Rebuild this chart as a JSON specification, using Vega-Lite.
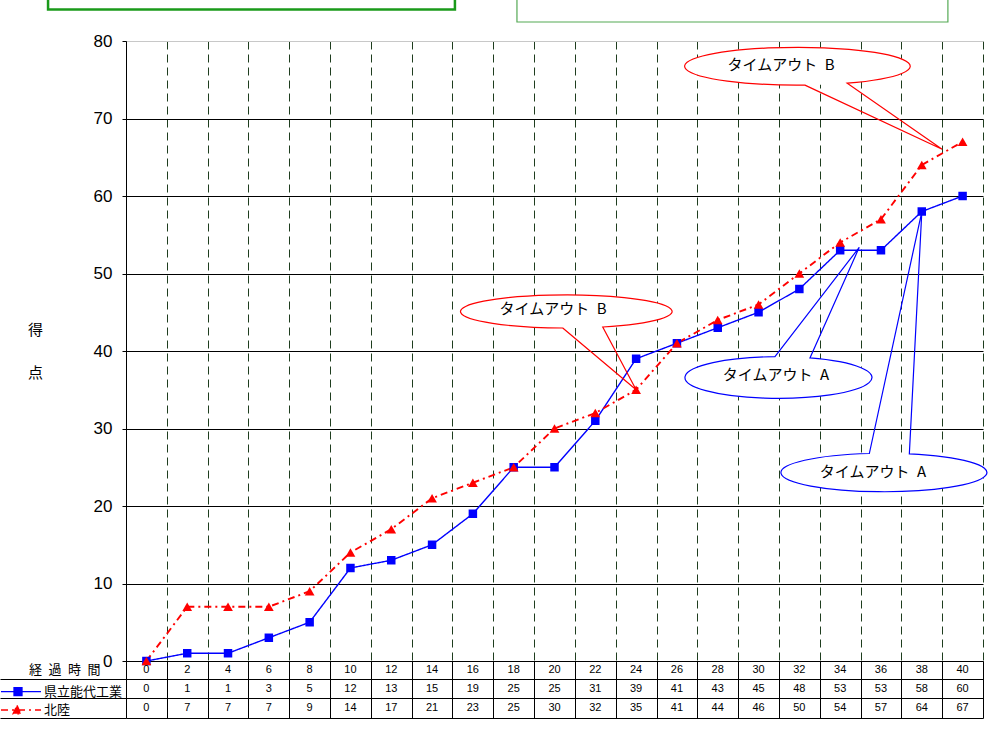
{
  "$schema": "https://vega.github.io/schema/vega-lite/v6.json",
  "width": 857,
  "height": 620,
  "autosize": {"type": "none"},
  "padding": {"left": 126, "top": 41, "right": 6, "bottom": 70},
  "background": "white",
  "config": {"view": {"stroke": null}, "font": "Liberation Sans"},
  "datasets": {
    "scores": [
      {"t": 0, "team": "県立能代工業", "score": 0},
      {"t": 2, "team": "県立能代工業", "score": 1},
      {"t": 4, "team": "県立能代工業", "score": 1},
      {"t": 6, "team": "県立能代工業", "score": 3},
      {"t": 8, "team": "県立能代工業", "score": 5},
      {"t": 10, "team": "県立能代工業", "score": 12},
      {"t": 12, "team": "県立能代工業", "score": 13},
      {"t": 14, "team": "県立能代工業", "score": 15},
      {"t": 16, "team": "県立能代工業", "score": 19},
      {"t": 18, "team": "県立能代工業", "score": 25},
      {"t": 20, "team": "県立能代工業", "score": 25},
      {"t": 22, "team": "県立能代工業", "score": 31},
      {"t": 24, "team": "県立能代工業", "score": 39},
      {"t": 26, "team": "県立能代工業", "score": 41},
      {"t": 28, "team": "県立能代工業", "score": 43},
      {"t": 30, "team": "県立能代工業", "score": 45},
      {"t": 32, "team": "県立能代工業", "score": 48},
      {"t": 34, "team": "県立能代工業", "score": 53},
      {"t": 36, "team": "県立能代工業", "score": 53},
      {"t": 38, "team": "県立能代工業", "score": 58},
      {"t": 40, "team": "県立能代工業", "score": 60},
      {"t": 0, "team": "北陸", "score": 0},
      {"t": 2, "team": "北陸", "score": 7},
      {"t": 4, "team": "北陸", "score": 7},
      {"t": 6, "team": "北陸", "score": 7},
      {"t": 8, "team": "北陸", "score": 9},
      {"t": 10, "team": "北陸", "score": 14},
      {"t": 12, "team": "北陸", "score": 17},
      {"t": 14, "team": "北陸", "score": 21},
      {"t": 16, "team": "北陸", "score": 23},
      {"t": 18, "team": "北陸", "score": 25},
      {"t": 20, "team": "北陸", "score": 30},
      {"t": 22, "team": "北陸", "score": 32},
      {"t": 24, "team": "北陸", "score": 35},
      {"t": 26, "team": "北陸", "score": 41},
      {"t": 28, "team": "北陸", "score": 44},
      {"t": 30, "team": "北陸", "score": 46},
      {"t": 32, "team": "北陸", "score": 50},
      {"t": 34, "team": "北陸", "score": 54},
      {"t": 36, "team": "北陸", "score": 57},
      {"t": 38, "team": "北陸", "score": 64},
      {"t": 40, "team": "北陸", "score": 67}
    ],
    "callouts": [
      {"id": "B1", "kind": "B", "label": "タイムアウト\u2002B", "cx": 20.59, "cy": 45.1, "tx": 19.93, "ty": 45.42},
      {"id": "B2", "kind": "B", "label": "タイムアウト\u2002B", "cx": 31.92, "cy": 76.75, "tx": 31.1, "ty": 76.9},
      {"id": "A1", "kind": "A", "label": "タイムアウト\u2002A", "cx": 31.01, "cy": 36.58, "tx": 30.85, "ty": 36.9},
      {"id": "A2", "kind": "A", "label": "タイムアウト\u2002A", "cx": 36.15, "cy": 24.32, "tx": 35.61, "ty": 24.43}
    ],
    "boxes": [
      {"box": "left", "x1": -4.82, "x2": 15.12, "y1": 84.06, "y2": 87.9},
      {"box": "right", "x1": 18.16, "x2": 39.28, "y1": 82.45, "y2": 87.9}
    ]
  },
  "layer": [
    {
      "data": {"name": "scores"},
      "encoding": {
        "x": {
          "field": "t", "type": "quantitative", "title": null,
          "scale": {"domain": [-1, 41], "nice": false, "zero": false},
          "axis": {
            "values": [-1, 1, 3, 5, 7, 9, 11, 13, 15, 17, 19, 21, 23, 25, 27, 29, 31, 33, 35, 37, 39, 41],
            "labels": false, "title": null,
            "ticks": true, "tickSize": 57, "tickColor": "#000000", "tickWidth": 1,
            "domain": true, "domainColor": "#000000", "domainWidth": 1,
            "grid": true, "gridColor": "#1e3d1e", "gridDash": [8, 5], "gridWidth": 1,
            "encode": {"grid": {"update": {"strokeOpacity": {"signal": "(datum.value < 0 || datum.value > 40) ? 0 : 1"}}}}
          }
        },
        "y": {
          "field": "score", "type": "quantitative",
          "scale": {"domain": [0, 80], "nice": false},
          "axis": {
            "values": [0, 10, 20, 30, 40, 50, 60, 70, 80],
            "title": ["得", "点"], "titleAngle": 0, "titleX": -91, "titleY": 288,
            "titleAlign": "center", "titleBaseline": "middle",
            "titleFont": "Noto Sans CJK JP", "titleFontSize": 15, "titleFontWeight": "normal",
            "titleLineHeight": 43, "titleColor": "#000000",
            "labelFont": "Liberation Sans", "labelFontSize": 17, "labelColor": "#000000", "labelPadding": 10,
            "tickSize": 4, "tickColor": "#000000",
            "domain": true, "domainColor": "#000000",
            "grid": true, "gridWidth": 1,
            "gridColor": {"condition": {"test": "datum.value >= 80", "value": "#c8c8c8"}, "value": "#000000"}
          }
        },
        "color": {
          "field": "team", "type": "nominal",
          "scale": {"domain": ["県立能代工業", "北陸"], "range": ["#0000ff", "#ff0000"]},
          "legend": {
            "orient": "none", "legendX": -115.5, "legendY": 640.2, "title": null,
            "direction": "vertical", "padding": 0, "rowPadding": 0.3,
            "labelFont": "Noto Sans CJK JP", "labelFontSize": 13, "labelColor": "#000000", "labelOffset": 12.5,
            "symbolSize": 361, "symbolStrokeWidth": 1.3,
            "encode": {
              "symbols": {
                "update": {
                  "shape": {"signal": "datum.value === '北陸' ? 'M-2.105,0H2.105M-0.421,-0.484L0,0.4L-0.842,0.4Z' : 'M-2.105,0H2.105M-0.737,-0.421H0.105V0.421H-0.737Z'"},
                  "fill": {"signal": "datum.value === '北陸' ? '#ff0000' : '#0000ff'"},
                  "stroke": {"signal": "datum.value === '北陸' ? '#ff0000' : '#0000ff'"},
                  "strokeDash": {"signal": "datum.value === '北陸' ? [2, 3, 7, 3] : [1, 0]"},
                  "size": {"value": 361},
                  "opacity": {"value": 1}
                }
              }
            }
          }
        }
      },
      "layer": [
        {
          "mark": {"type": "line"},
          "encoding": {
            "strokeDash": {
              "field": "team", "type": "nominal",
              "scale": {"domain": ["県立能代工業", "北陸"], "range": [[1, 0], [7, 4, 2, 4]]},
              "legend": null
            },
            "strokeWidth": {
              "field": "team", "type": "nominal",
              "scale": {"domain": ["県立能代工業", "北陸"], "range": [1.4, 1.9]},
              "legend": null
            }
          }
        },
        {
          "mark": {"type": "point", "filled": true, "opacity": 1},
          "encoding": {
            "shape": {
              "field": "team", "type": "nominal",
              "scale": {"domain": ["県立能代工業", "北陸"], "range": ["square", "triangle-up"]},
              "legend": null
            },
            "size": {
              "field": "team", "type": "nominal",
              "scale": {"domain": ["県立能代工業", "北陸"], "range": [72, 95]},
              "legend": null
            }
          }
        }
      ]
    },
    {
      "data": {"name": "boxes"},
      "mark": {"type": "rect", "fill": "white", "fillOpacity": 0},
      "encoding": {
        "x": {"field": "x1", "type": "quantitative", "title": null, "scale": {"domain": [-1, 41], "nice": false, "zero": false}},
        "x2": {"field": "x2"},
        "y": {"field": "y1", "type": "quantitative", "scale": {"domain": [0, 80], "nice": false}, "axis": null},
        "y2": {"field": "y2"},
        "stroke": {"field": "box", "type": "nominal", "scale": {"domain": ["left", "right"], "range": ["#1a9a1a", "#55aa55"]}, "legend": null},
        "strokeWidth": {"field": "box", "type": "nominal", "scale": {"domain": ["left", "right"], "range": [2.5, 1.2]}, "legend": null}
      }
    },
    {
      "data": {"name": "callouts"},
      "mark": {"type": "point", "filled": true, "opacity": 1, "fill": "white", "strokeWidth": 0, "size": 4},
      "encoding": {
        "x": {"field": "cx", "type": "quantitative", "title": null, "scale": {"domain": [-1, 41], "nice": false, "zero": false}},
        "y": {"field": "cy", "type": "quantitative", "scale": {"domain": [0, 80], "nice": false}, "axis": null},
        "shape": {
          "field": "id", "type": "nominal",
          "scale": {
            "domain": ["B1", "B2", "A1", "A2"],
            "range": [
              "M-105.8,0A105.8,16.5 0 1,0 105.8,0A105.8,16.5 0 1,0 -105.8,0Z",
              "M-112.8,0A112.8,18.9 0 1,0 112.8,0A112.8,18.9 0 1,0 -112.8,0Z",
              "M-93.5,0A93.5,20.8 0 1,0 93.5,0A93.5,20.8 0 1,0 -93.5,0Z",
              "M-103,0A103,19.2 0 1,0 103,0A103,19.2 0 1,0 -103,0Z"
            ]
          },
          "legend": null
        }
      }
    },
    {
      "data": {"name": "callouts"},
      "mark": {"type": "point", "filled": false, "opacity": 1, "size": 4, "strokeWidth": 1.2},
      "encoding": {
        "x": {"field": "cx", "type": "quantitative", "title": null, "scale": {"domain": [-1, 41], "nice": false, "zero": false}},
        "y": {"field": "cy", "type": "quantitative", "scale": {"domain": [0, 80], "nice": false}, "axis": null},
        "shape": {
          "field": "id", "type": "nominal",
          "scale": {
            "domain": ["B1", "B2", "A1", "A2"],
            "range": [
              "M-3.8,16.5L69.6,78.2L36.2,15.5A105.8,16.5 0 1,0 -3.8,16.5Z",
              "M7.2,18.9L144.4,83.1L49.5,17A112.8,18.9 0 1,0 7.2,18.9Z",
              "M30.8,-19.6L80.1,-130.2L-4.2,-20.8A93.5,20.8 0 1,0 30.8,-19.6Z",
              "M25.3,-18.6L37.8,-261L-14.7,-19A103,19.2 0 1,0 25.3,-18.6Z"
            ]
          },
          "legend": null
        },
        "stroke": {"field": "kind", "type": "nominal", "scale": {"domain": ["B", "A"], "range": ["#ff0000", "#0000ff"]}, "legend": null}
      }
    },
    {
      "data": {"name": "callouts"},
      "mark": {"type": "text", "font": "Noto Sans CJK JP", "fontSize": 15, "align": "center", "baseline": "middle", "color": "#000000"},
      "encoding": {
        "x": {"field": "tx", "type": "quantitative", "title": null, "scale": {"domain": [-1, 41], "nice": false, "zero": false}},
        "y": {"field": "ty", "type": "quantitative", "scale": {"domain": [0, 80], "nice": false}, "axis": null},
        "text": {"field": "label"}
      }
    },
    {
      "data": {"name": "scores"},
      "encoding": {
        "x": {"field": "t", "type": "quantitative", "title": null, "scale": {"domain": [-1, 41], "nice": false, "zero": false}}
      },
      "layer": [
        {
          "transform": [{"filter": "datum.team === '県立能代工業'"}],
          "mark": {"type": "text", "font": "Liberation Sans", "fontSize": 11, "color": "#000000", "baseline": "middle"},
          "encoding": {
            "y": {
              "datum": "経過時間", "type": "nominal",
              "scale": {"type": "band", "domain": ["経過時間", "県立能代工業", "北陸"], "range": [619.7, 677], "paddingInner": 0, "paddingOuter": 0},
              "axis": {
                "orient": "left", "title": null, "domain": false,
                "ticks": true, "tickSize": 126, "tickColor": "#000000", "bandPosition": 1,
                "grid": true, "gridColor": "#000000", "gridWidth": 1,
                "labelExpr": "datum.value === '経過時間' ? '経\u2002過\u2002時\u2002間' : ''",
                "labelFont": "Noto Sans CJK JP", "labelFontSize": 13, "labelColor": "#000000",
                "labelPadding": -100, "labelAlign": "right", "labelBaseline": "middle",
                "encode": {
                  "ticks": {"update": {"stroke": {"signal": "datum.value === '北陸' ? '#9a9a9a' : '#000000'"}}},
                  "grid": {"update": {"stroke": {"signal": "datum.value === '北陸' ? '#9a9a9a' : '#000000'"}}}
                }
              }
            },
            "text": {"field": "t", "type": "quantitative"}
          }
        },
        {
          "mark": {"type": "text", "font": "Liberation Sans", "fontSize": 11, "color": "#000000", "baseline": "middle"},
          "encoding": {
            "y": {
              "field": "team", "type": "nominal",
              "scale": {"type": "band", "domain": ["経過時間", "県立能代工業", "北陸"], "range": [619.7, 677], "paddingInner": 0, "paddingOuter": 0}
            },
            "text": {"field": "score", "type": "quantitative"}
          }
        }
      ]
    }
  ],
  "resolve": {
    "scale": {"y": "independent", "shape": "independent", "stroke": "independent", "strokeWidth": "independent", "size": "independent"},
    "axis": {"y": "independent"}
  }
}
